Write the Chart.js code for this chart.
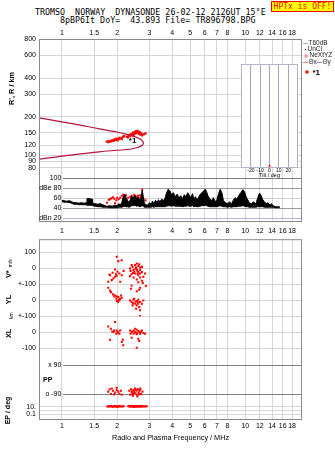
<!DOCTYPE html>
<html>
<head>
<meta charset="utf-8">
<script src="https://cdn.jsdelivr.net/npm/chart.js@4.4.1/dist/chart.umd.min.js"></script>
<style>
  html, body { margin: 0; padding: 0; background: #fff; }
  #page { position: relative; width: 335px; height: 451px; overflow: hidden; background: #fff; }
  canvas { position: absolute; }
  .hdr { position: absolute; font-family: 'DejaVu Sans Mono', monospace; font-size: 8.33px; line-height: 9px; white-space: pre; color: #000; }
  #hptx { position: absolute; left: 271px; top: 1px; width: 61px; height: 9px; background: #ffff00; border: 1px solid #ff0000;
          color: #ff0000; font-family: 'DejaVu Sans Mono', monospace; font-size: 8px; line-height: 9px; text-align: center; white-space: pre; }
</style>
</head>
<body>
<div id="page">
  <div class="hdr" style="left:35px;top:7.6px">TROMSO  NORWAY  DYNASONDE 26-02-12 2126UT 15°E</div>
  <div class="hdr" style="left:60px;top:15.6px">8pBP6It DoY=  43.893 File= TR896798.BPG</div>
  <div id="hptx">HPTx is OFF!</div>
  <canvas id="cA" width="335" height="240" style="left:0;top:0"></canvas>
  <canvas id="cB" width="335" height="219" style="left:0;top:232px"></canvas>
  <canvas id="cT" width="68" height="122" style="left:236px;top:60px"></canvas>
</div>
<script>
// ---------------- axes ----------------
const FREQ_TICKS = [1, 1.5, 2, 3, 4, 5, 6, 7, 8, 10, 12, 14, 16, 18];
const FREQ_TICK_LABELS = ['1', '1.5', '2', '3', '4', '5', '6', '7', '8', '10', '12', '14', '16', '18'];
const HEIGHT_TICKS = [800, 600, 400, 300, 200, 150, 120, 100, 90, 80];
const DB_TICKS = [100, 80, 60, 40, 20];
const DB_TICK_LABELS = ['100', 'dBe 80', '60', '40', 'dBn 20'];
const VS_TICKS = [100, 0, -100];
const VS_TICK_LABELS = ['100', '0', '+-100'];
const YL_TICKS = [0, -100];
const YL_TICK_LABELS = ['0', '+-100'];
const XL_TICKS = [0, -100];
const XL_TICK_LABELS = ['0', '-100'];
const PP_TICKS = [90, -90];
const PP_TICK_LABELS = ['x 90', 'o -90'];
const EP_TICKS = [10, 1, 0.1];
const EP_TICK_LABELS = ['10.', '', '0.1'];
const TILT_TICKS = [-30, -20, -10, 0, 10, 20, 30];
const TILT_TICK_LABELS = ['', '-20', '-10', '0', '10', '20', ''];

// ---------------- virtual height profile (MHz, km) ----------------
const profileFreq   = [0.755, 0.9, 1.0, 1.2, 1.4, 1.6, 1.8, 2.0, 2.2, 2.4, 2.55, 2.67, 2.74, 2.78, 2.77, 2.72, 2.6, 2.4, 2.2, 2.0, 1.6, 1.3, 1.0, 0.9, 0.755];
const profileHeight = [196, 187, 182, 174, 167, 161, 156, 152, 147, 142, 138, 134, 130, 126, 122, 119, 115.5, 112, 110.5, 109.5, 106.5, 103, 98.5, 96.5, 93.5];

// ---------------- echo cluster *1: range vs frequency ----------------
const echoFreq   = [1.76, 1.79, 1.82, 1.84, 1.87, 1.89, 1.92, 1.94, 1.97, 1.99, 2.01, 2.04, 2.06, 2.09, 2.12, 2.15, 2.18, 2.26, 2.29, 2.32, 2.35, 2.37, 2.40, 2.42, 2.44, 2.46, 2.48, 2.50, 2.52, 2.54, 2.56, 2.58, 2.60, 2.62, 2.64, 2.66, 2.68, 2.71, 2.74, 2.80, 2.86];
const echoHeight = [128, 127, 129, 128, 130, 131, 130, 133, 132, 135, 131, 134, 137, 136, 134, 139, 141, 140, 138, 143, 141, 145, 146, 144, 150, 141, 147, 152, 148, 154, 151, 155, 149, 153, 147, 151, 145, 148, 143, 146, 148];

// ---------------- amplitude trace (dB) ----------------
const ampFreq = [1.00, 1.03, 1.06, 1.10, 1.13, 1.16, 1.20, 1.24, 1.28, 1.32, 1.36, 1.37, 1.42, 1.46, 1.47, 1.52, 1.57, 1.62, 1.67, 1.72, 1.77, 1.82, 1.88, 1.94, 2.00,
  2.04, 2.08, 2.12, 2.16, 2.20, 2.24, 2.28, 2.32, 2.36, 2.40, 2.45, 2.50, 2.55, 2.60, 2.65, 2.70, 2.74, 2.78, 2.82, 2.88, 2.94, 3.00,
  3.06, 3.12, 3.18, 3.24, 3.30, 3.36, 3.42, 3.50, 3.58, 3.66, 3.72, 3.80, 3.88, 3.96, 4.05, 4.15, 4.25, 4.35, 4.45, 4.55,
  4.65, 4.75, 4.85, 4.95, 5.05, 5.15, 5.25, 5.35, 5.45, 5.55, 5.65, 5.80, 5.95, 6.05, 6.15, 6.25, 6.40, 6.55, 6.70, 6.85,
  7.00, 7.15, 7.30, 7.45, 7.60, 7.80, 8.00, 8.20, 8.40, 8.60, 8.80, 9.00, 9.20, 9.45, 9.70, 9.90, 10.10, 10.30, 10.50, 10.80,
  11.10, 11.40, 11.70, 11.95, 12.20, 12.45, 12.70, 13.00, 13.30, 13.60, 13.90, 14.20, 14.50, 15.00, 15.40];
const ampMax = [55, 54, 53, 54, 52, 50, 50, 49, 50, 49, 50, 58, 58, 57, 49, 48, 47, 48, 46, 44, 43, 44, 43, 45, 44,
  48, 46, 50, 62, 67, 60, 55, 50, 56, 63, 60, 65, 57, 62, 55, 60, 75, 62, 48, 46, 45, 50,
  47, 53, 48, 55, 50, 56, 52, 57, 54, 60, 70, 77, 74, 66, 70, 62, 67, 60, 64, 58,
  66, 62, 70, 65, 60, 68, 57, 62, 56, 60, 66, 70, 74, 77, 72, 64, 58, 54, 60, 52,
  56, 68, 77, 70, 54, 50, 48, 52, 47, 55, 60, 57, 64, 70, 76, 72, 62, 56, 50, 48,
  52, 47, 60, 69, 64, 56, 52, 48, 50, 45, 48, 44, 42, 42, 42];
const ampMin = [52, 51, 51, 50, 49, 47, 47, 46, 46, 46, 46, 45, 45, 45, 44, 43, 42, 42, 41, 41, 41, 40, 40, 40, 40,
  41, 41, 41, 42, 43, 42, 42, 41, 42, 44, 44, 45, 43, 44, 42, 43, 44, 43, 41, 41, 41, 41,
  41, 42, 41, 42, 42, 42, 42, 42, 42, 42, 43, 44, 44, 43, 44, 43, 43, 43, 43, 42,
  43, 43, 44, 43, 43, 44, 42, 43, 42, 42, 43, 44, 44, 45, 44, 43, 42, 42, 42, 42,
  42, 43, 44, 43, 42, 42, 41, 42, 41, 42, 42, 42, 43, 43, 44, 43, 42, 42, 41, 41,
  41, 41, 42, 42, 42, 42, 41, 41, 41, 41, 41, 41, 40, 40, 40];

// cluster *1 amplitudes (dB)
const clusterAmpFreq = [1.76, 1.80, 1.83, 1.86, 1.90, 1.93, 1.95, 1.98, 2.00, 2.04, 2.08, 2.12, 2.16, 2.20, 2.24, 2.30, 2.36, 2.40, 2.44, 2.48, 2.52, 2.56, 2.60, 2.63, 2.67, 2.70, 2.74, 2.78, 2.86];
const clusterAmp     = [50, 56, 57, 59, 61, 58, 49, 55, 60, 57, 60, 64, 66, 62, 65, 60, 62, 64, 60, 66, 63, 61, 64, 59, 65, 62, 76, 58, 55];

// ---------------- Doppler velocity V* (m/s) ----------------
const vsFreq = [1.99, 2.12, 2.03, 2.17, 1.95, 2.01, 2.06, 1.97, 1.83, 1.89, 1.95, 2.12, 1.91, 1.87, 1.79, 2.08, 1.82, 1.99,
  2.40, 2.51, 2.61, 2.67, 2.35, 2.46, 2.56, 2.67, 2.61, 2.51, 2.40, 2.35, 2.61, 2.73, 2.84, 2.67, 2.46, 2.56, 2.73, 2.61, 2.76,
  2.43, 2.54, 2.48, 2.59, 2.67, 2.78, 2.37, 2.64, 2.56, 2.73, 2.52, 2.58, 2.44];
const vsVal  = [73, 52, 46, -15, -6, -21, -31, -36, -42, -27, -52, -42, -63, -73, -83, -83, -38, -46,
  21, 21, 15, 6, 0, -10, -6, -10, -23, -31, -35, -48, -42, -23, -31, -56, -56, -69, -77, -86, -90,
  10, 6, -21, -31, -31, -52, -15, 27, 31, 10, -2, -14, -28];

// ---------------- echo location YL, XL (km) ----------------
const ylFreq = [1.79, 1.83, 1.85, 1.90, 1.93, 1.95, 1.99, 2.03, 2.08, 1.98, 2.06, 2.02, 2.12, 2.10, 2.00, 2.05,
  2.40, 2.38, 2.64, 2.56, 2.67, 2.87, 2.35, 2.40, 2.46, 2.56, 2.67, 2.61, 2.51, 2.43, 2.56, 2.64, 2.73, 2.54, 2.67, 2.67, 2.48, 2.61, 2.78, 2.44, 2.59, 2.52];
const ylVal  = [79, 62, 52, 38, 25, 31, 25, 21, 10, 10, 0, -10, 17, 31, -4, 6,
  94, 73, 67, 58, 79, 90, 0, -10, 4, -4, -10, -21, -21, -31, -31, -42, -21, -52, -62, -98, 10, 4, 0, -18, -12, -8];
const xlFreq = [1.79, 1.95, 1.85, 1.93, 1.99, 2.03, 2.06, 1.98, 1.91, 1.83, 2.15, 2.12, 2.16, 2.08, 1.88, 2.01,
  2.35, 2.40, 2.46, 2.51, 2.56, 2.61, 2.67, 2.73, 2.78, 2.84, 2.46, 2.56, 2.67, 2.40, 2.61, 2.64, 2.56, 2.51, 2.37, 2.43, 2.53, 2.70, 2.58];
const xlVal  = [37, 65, 23, 12, 12, 2, -8, -8, 2, -46, -46, -60, -81, 12, 5, -2,
  12, 2, 12, 2, 17, 8, 2, 12, -4, -8, -8, -12, -8, -33, -40, -54, -96, 23, -8, 6, -2, 4, -4];

// ---------------- polarization PP and EP (deg) ----------------
const ppFreq = [1.79, 1.82, 1.87, 1.90, 1.95, 1.99, 2.03, 2.06, 1.93, 2.10, 1.99, 2.12, 1.85,
  2.33, 2.38, 2.40, 2.43, 2.46, 2.48, 2.50, 2.52, 2.55, 2.57, 2.60, 2.62, 2.65, 2.68, 2.70, 2.44, 2.58, 2.36, 2.75, 2.53, 2.63, 2.47, 2.41, 2.66];
const ppVal  = [-75, -60, -55, -70, -80, -65, -75, -88, -92, -70, -50, -95, -90,
  -70, -60, -80, -90, -65, -75, -55, -85, -70, -95, -60, -80, -70, -55, -90, -100, -105, -95, -75, -62, -92, -85, -72, -64];
const epFreq = [1.77, 1.79, 1.81, 1.83, 1.85, 1.87, 1.89, 1.91, 1.93, 1.95, 1.97, 1.99, 2.01, 2.03, 2.05, 2.08, 2.11, 2.14, 2.17,
  2.30, 2.32, 2.34, 2.36, 2.38, 2.40, 2.42, 2.44, 2.46, 2.48, 2.50, 2.52, 2.54, 2.56, 2.58, 2.60, 2.62, 2.64, 2.66, 2.68, 2.70, 2.73, 2.76, 2.80, 2.85, 2.90];
const epVal  = [12, 14, 11, 13, 15, 12, 10, 14, 12, 16, 11, 13, 9, 12, 15, 11, 13, 12, 14,
  13, 15, 12, 14, 11, 13, 16, 12, 9, 14, 12, 15, 11, 13, 10, 14, 12, 16, 11, 13, 12, 14, 12, 13, 12, 14];

// ---------------- tilt (deg) ----------------
const tiltDeg = [0];

// ---------------- drawing helpers ----------------
const SANS = "'Liberation Sans', Arial, sans-serif";
const GRID = '#d6d6d6';
const FRAME = '#8a8a8a';
const RED = '#ff0000';
const F_MIN = 0.755, F_MAX = 20.25;

const pts = (xs, ys) => xs.map((x, i) => ({ x, y: ys[i] }));

function label(ctx, s, x, y, font, color, align, rot) {
  ctx.save();
  ctx.font = font;
  ctx.fillStyle = color;
  ctx.textAlign = align || 'left';
  ctx.textBaseline = 'middle';
  ctx.translate(x, y);
  if (rot) ctx.rotate(rot);
  ctx.fillText(s, 0, 0);
  ctx.restore();
}
function hline(ctx, x1, x2, y, color) {
  ctx.save();
  ctx.strokeStyle = color;
  ctx.lineWidth = 1;
  ctx.beginPath();
  ctx.moveTo(x1, Math.round(y) + 0.5);
  ctx.lineTo(x2, Math.round(y) + 0.5);
  ctx.stroke();
  ctx.restore();
}
function frame(chart, color) {
  const a = chart.chartArea, ctx = chart.ctx;
  ctx.save();
  ctx.strokeStyle = color;
  ctx.lineWidth = 1;
  ctx.strokeRect(a.left, a.top, a.right - a.left, a.bottom - a.top);
  ctx.restore();
}
function setTicks(values) {
  return s => { s.ticks = values.map(v => ({ value: v })); };
}
function freqAxis(position, showGrid, pad, boxHeight, title) {
  return {
    type: 'logarithmic', position, min: F_MIN, max: F_MAX,
    afterBuildTicks: setTicks(FREQ_TICKS),
    afterFit: s => { s.height = boxHeight; },
    ticks: { autoSkip: false, maxRotation: 0, minRotation: 0, padding: pad, color: '#000',
             font: { family: SANS, size: 7 }, callback: (v, i) => FREQ_TICK_LABELS[i] },
    grid: { display: showGrid, color: GRID, drawTicks: false },
    border: { display: false },
    title: title || { display: false },
  };
}
function valueAxis(type, stackName, weight, stackWeight, min, max, ticks, labels, grid) {
  return {
    type, position: 'left', stack: stackName, weight, stackWeight, min, max,
    afterBuildTicks: setTicks(ticks),
    afterFit: s => { s.width = 39.5; },
    ticks: { display: labels !== null, autoSkip: false, padding: 3.5, color: '#000',
             font: { family: SANS, size: 7 }, callback: (v, i) => (labels ? labels[i] : '') },
    grid: { display: grid, color: GRID, drawTicks: false },
    border: { display: false },
  };
}
const pointSet = (data, yAxisID) => ({
  data, yAxisID, showLine: false, pointStyle: 'rect', pointRadius: 1.45,
  pointBackgroundColor: RED, pointBorderWidth: 0, borderColor: RED,
});

const base = {
  responsive: false, animation: false, devicePixelRatio: 1, events: [],
  plugins: { legend: { display: false }, tooltip: { enabled: false } },
};

// ---------------- upper chart: range and amplitude ----------------
const upperDecor = {
  id: 'upperDecor',
  beforeDatasetsDraw(chart) {
    const { ctx, chartArea: a, scales: { x, ydb } } = chart;
    const x1 = Math.round(x.getPixelForValue(1)) + 1;
    const colours = ['#7c7c7c', '#9a9a9a', '#d0d0d0', '#9a9a9a', '#b4b4dc'];
    DB_TICKS.forEach((v, i) => hline(ctx, x1, a.right, ydb.getPixelForValue(v), colours[i]));
  },
  afterDraw(chart) {
    const { ctx, chartArea: a, scales: { x, yh, ydb } } = chart;
    frame(chart, FRAME);
    const xr = x.getPixelForValue(1) - 0.5;
    DB_TICKS.forEach((v, i) => label(ctx, DB_TICK_LABELS[i], xr, ydb.getPixelForValue(v), `7px ${SANS}`, '#000', 'right'));
    label(ctx, "R', R / km", 11.5, 88.5, `bold 7.3px ${SANS}`, '#000', 'center', -Math.PI / 2);
    label(ctx, '*1', x.getPixelForValue(2.43), yh.getPixelForValue(130), `bold 8px ${SANS}`, '#000', 'center');
    // legend
    const lf = `6.5px ${SANS}`;
    hline(ctx, 303, 308, 43, '#a8a8a8');
    label(ctx, 'T60dB', 308.5, 43, lf, '#222');
    ctx.fillStyle = '#000'; ctx.fillRect(305, 49, 1, 1);
    label(ctx, 'UnCl', 307.5, 49.3, lf, '#222');
    ctx.fillStyle = '#ff6b8e'; ctx.fillRect(303.5, 55.5, 5, 1); ctx.fillRect(305.5, 53.5, 1, 5);
    label(ctx, 'NeXtYZ', 309.5, 55.7, lf, '#222');
    hline(ctx, 302.5, 308, 62, '#f08a8a');
    label(ctx, 'Θx', 308.5, 62.3, lf, '#222');
    hline(ctx, 316.5, 322, 62, '#8a8ae6');
    label(ctx, 'Θy', 322.5, 62.3, lf, '#222');
    ctx.fillStyle = RED; ctx.fillRect(305.5, 70.5, 3, 3);
    label(ctx, '*1', 312.5, 72.5, `bold 8px ${SANS}`, '#000');
  },
};

new Chart(document.getElementById('cA'), {
  type: 'line',
  data: {
    datasets: [
      { data: pts(profileFreq, profileHeight), yAxisID: 'yh', borderColor: '#b8123e', borderWidth: 1.2,
        pointRadius: 0, tension: 0.3, fill: false },
      { ...pointSet(pts(echoFreq, echoHeight), 'yh'), pointRadius: 1.6 },
      { data: pts(ampFreq, ampMax), yAxisID: 'ydb', borderColor: '#000', borderWidth: 1, pointRadius: 0,
        fill: '+1', backgroundColor: '#000' },
      { data: pts(ampFreq, ampMin), yAxisID: 'ydb', borderColor: '#000', borderWidth: 1, pointRadius: 0, fill: false },
      pointSet(pts(clusterAmpFreq, clusterAmp), 'ydb'),
    ],
  },
  options: {
    ...base,
    layout: { padding: { left: 0, right: 33.5, top: 0, bottom: 0 } },
    scales: {
      x: freqAxis('top', true, 2.3, 39.5),
      x2: freqAxis('bottom', false, 5, 18.5),
      yh: valueAxis('logarithmic', 'A', 2, 138.2, 66.9, 800, HEIGHT_TICKS, HEIGHT_TICKS.map(String), true),
      ydb: valueAxis('linear', 'A', 1, 43.8, 12.4, 100, DB_TICKS, null, false),
    },
  },
  plugins: [upperDecor],
});

// ---------------- lower chart: V*, YL, XL, PP, EP ----------------
const lowerDecor = {
  id: 'lowerDecor',
  beforeDatasetsDraw(chart) {
    const { ctx, chartArea: a, scales: { x, ypp } } = chart;
    const x1 = Math.round(x.getPixelForValue(1)) + 1;
    PP_TICKS.forEach(v => hline(ctx, x1, a.right, ypp.getPixelForValue(v), '#808080'));
  },
  afterDraw(chart) {
    const { ctx, scales: { x, yv, yyl, yxl, ypp, yep } } = chart;
    frame(chart, FRAME);
    const xr = x.getPixelForValue(1) - 0.5;
    PP_TICKS.forEach((v, i) => label(ctx, PP_TICK_LABELS[i], xr, ypp.getPixelForValue(v), `7px ${SANS}`, '#000', 'right'));
    label(ctx, 'PP', 43, ypp.getPixelForValue(0), `bold 7px ${SANS}`, '#000');
    const bf = `bold 7.3px ${SANS}`, sf = `5px ${SANS}`, up = -Math.PI / 2;
    label(ctx, 'V*', 8.5, yv.getPixelForValue(-36), bf, '#000', 'center', up);
    label(ctx, 'm/s', 11, yv.getPixelForValue(33), sf, '#000', 'center', up);
    label(ctx, 'YL', 8.5, yyl.getPixelForValue(6), bf, '#000', 'center', up);
    label(ctx, 'km', 12, yyl.getPixelForValue(-95), sf, '#000', 'center', up);
    label(ctx, 'XL', 8.5, yxl.getPixelForValue(-6), bf, '#000', 'center', up);
    label(ctx, 'EP / deg', 8.5, yep.getPixelForValue(1), `bold 7px ${SANS}`, '#000', 'center', up);
  },
};

new Chart(document.getElementById('cB'), {
  type: 'line',
  data: {
    datasets: [
      pointSet(pts(vsFreq, vsVal), 'yv'),
      pointSet(pts(ylFreq, ylVal), 'yyl'),
      pointSet(pts(xlFreq, xlVal), 'yxl'),
      pointSet(pts(ppFreq, ppVal), 'ypp'),
      pointSet(pts(epFreq, epVal), 'yep'),
    ],
  },
  options: {
    ...base,
    layout: { padding: { left: 0, right: 33.5, top: 7.5, bottom: 0 } },
    scales: {
      x: freqAxis('bottom', true, 2, 31.5,
        { display: true, text: 'Radio and Plasma Frequency / MHz', color: '#000',
          font: { family: SANS, size: 7.3 }, padding: { top: 0, bottom: 8.3 } }),
      yv: valueAxis('linear', 'B', 5, 44.8, -100, 180, VS_TICKS, VS_TICK_LABELS, true),
      yyl: valueAxis('linear', 'B', 4, 32, -100, 100, YL_TICKS, YL_TICK_LABELS, true),
      yxl: valueAxis('linear', 'B', 3, 40, -150, 100, XL_TICKS, XL_TICK_LABELS, true),
      ypp: valueAxis('linear', 'B', 2, 46, -142, 146.4, PP_TICKS, null, false),
      yep: valueAxis('logarithmic', 'B', 1, 17.2, 0.00428, 143.8, EP_TICKS, EP_TICK_LABELS, true),
    },
  },
  plugins: [lowerDecor],
});

// ---------------- tilt inset ----------------
const tiltDecor = {
  id: 'tiltDecor',
  beforeDraw(chart) {
    const a = chart.chartArea, ctx = chart.ctx;
    ctx.save();
    ctx.fillStyle = '#fff';
    ctx.fillRect(a.left, a.top, a.right - a.left, a.bottom - a.top);
    ctx.restore();
  },
  afterDraw(chart) { frame(chart, '#b4b4c8'); },
};

new Chart(document.getElementById('cT'), {
  type: 'line',
  data: {
    datasets: [
      { data: tiltDeg.flatMap(t => [{ x: t, y: 0 }, { x: t, y: 0.03 }]), borderColor: RED, borderWidth: 1.5,
        pointRadius: 0, fill: false },
    ],
  },
  options: {
    ...base,
    layout: { padding: { left: 5.5, right: 6.5, top: 4.5, bottom: 0 } },
    scales: {
      x: {
        type: 'linear', position: 'bottom', min: -30, max: 30,
        afterBuildTicks: setTicks(TILT_TICKS),
        afterFit: s => { s.height = 14.5; },
        ticks: { autoSkip: false, maxRotation: 0, padding: 0, color: '#000', font: { family: SANS, size: 5 },
                 callback: (v, i) => TILT_TICK_LABELS[i] },
        grid: { color: '#a4a4c8', drawTicks: false },
        border: { display: false },
        title: { display: true, text: 'Tilt / deg', color: '#000', font: { family: SANS, size: 5.5 },
                 padding: { top: 0, bottom: 3.7 } },
      },
      y: { type: 'linear', display: false, min: 0, max: 1 },
    },
  },
  plugins: [tiltDecor],
});
</script>
</body>
</html>
